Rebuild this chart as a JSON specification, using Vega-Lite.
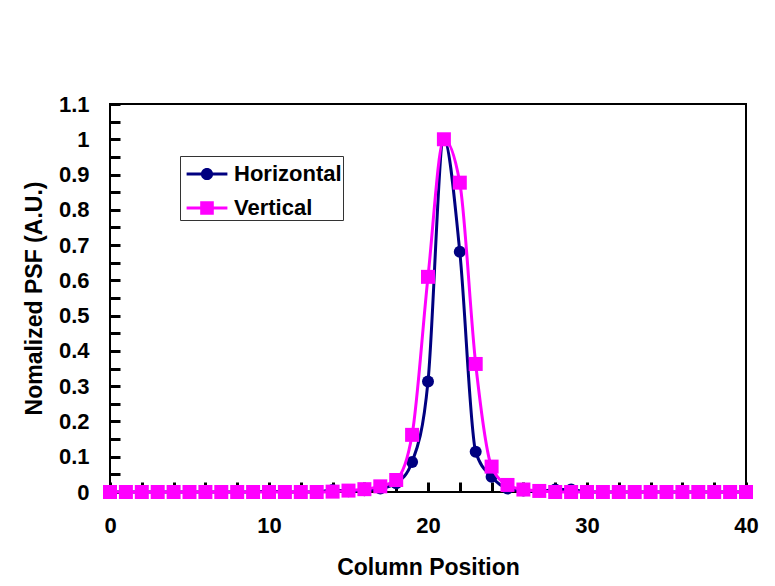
{
  "$schema": "https://vega.github.io/schema/vega-lite/v6.json",
  "width": 636,
  "height": 388,
  "autosize": {"type": "none"},
  "padding": {"left": 110, "top": 104, "right": 29, "bottom": 94},
  "background": "white",
  "config": {"view": {"stroke": "black", "strokeWidth": 2}, "font": "Liberation Sans"},
  "data": {"values": [
    {"series": "Horizontal", "col": 0, "psf": 0}, {"series": "Horizontal", "col": 1, "psf": 0}, {"series": "Horizontal", "col": 2, "psf": 0}, {"series": "Horizontal", "col": 3, "psf": 0}, {"series": "Horizontal", "col": 4, "psf": 0}, {"series": "Horizontal", "col": 5, "psf": 0}, {"series": "Horizontal", "col": 6, "psf": 0}, {"series": "Horizontal", "col": 7, "psf": 0}, {"series": "Horizontal", "col": 8, "psf": 0}, {"series": "Horizontal", "col": 9, "psf": 0},
    {"series": "Horizontal", "col": 10, "psf": 0.003}, {"series": "Horizontal", "col": 11, "psf": 0}, {"series": "Horizontal", "col": 12, "psf": 0}, {"series": "Horizontal", "col": 13, "psf": 0}, {"series": "Horizontal", "col": 14, "psf": 0.006}, {"series": "Horizontal", "col": 15, "psf": 0.002}, {"series": "Horizontal", "col": 16, "psf": 0.005}, {"series": "Horizontal", "col": 17, "psf": 0.01}, {"series": "Horizontal", "col": 18, "psf": 0.025}, {"series": "Horizontal", "col": 19, "psf": 0.085},
    {"series": "Horizontal", "col": 20, "psf": 0.313}, {"series": "Horizontal", "col": 21, "psf": 1.0}, {"series": "Horizontal", "col": 22, "psf": 0.681}, {"series": "Horizontal", "col": 23, "psf": 0.114}, {"series": "Horizontal", "col": 24, "psf": 0.043}, {"series": "Horizontal", "col": 25, "psf": 0.01}, {"series": "Horizontal", "col": 26, "psf": 0.004}, {"series": "Horizontal", "col": 27, "psf": 0.002}, {"series": "Horizontal", "col": 28, "psf": 0.007}, {"series": "Horizontal", "col": 29, "psf": 0.007},
    {"series": "Horizontal", "col": 30, "psf": 0}, {"series": "Horizontal", "col": 31, "psf": 0}, {"series": "Horizontal", "col": 32, "psf": 0}, {"series": "Horizontal", "col": 33, "psf": 0}, {"series": "Horizontal", "col": 34, "psf": 0}, {"series": "Horizontal", "col": 35, "psf": 0}, {"series": "Horizontal", "col": 36, "psf": 0}, {"series": "Horizontal", "col": 37, "psf": 0}, {"series": "Horizontal", "col": 38, "psf": 0}, {"series": "Horizontal", "col": 39, "psf": 0}, {"series": "Horizontal", "col": 40, "psf": 0},
    {"series": "Vertical", "col": 0, "psf": 0}, {"series": "Vertical", "col": 1, "psf": 0}, {"series": "Vertical", "col": 2, "psf": 0}, {"series": "Vertical", "col": 3, "psf": 0}, {"series": "Vertical", "col": 4, "psf": 0}, {"series": "Vertical", "col": 5, "psf": 0}, {"series": "Vertical", "col": 6, "psf": 0}, {"series": "Vertical", "col": 7, "psf": 0}, {"series": "Vertical", "col": 8, "psf": 0}, {"series": "Vertical", "col": 9, "psf": 0},
    {"series": "Vertical", "col": 10, "psf": 0}, {"series": "Vertical", "col": 11, "psf": 0}, {"series": "Vertical", "col": 12, "psf": 0}, {"series": "Vertical", "col": 13, "psf": 0}, {"series": "Vertical", "col": 14, "psf": 0.001}, {"series": "Vertical", "col": 15, "psf": 0.004}, {"series": "Vertical", "col": 16, "psf": 0.008}, {"series": "Vertical", "col": 17, "psf": 0.016}, {"series": "Vertical", "col": 18, "psf": 0.034}, {"series": "Vertical", "col": 19, "psf": 0.162},
    {"series": "Vertical", "col": 20, "psf": 0.61}, {"series": "Vertical", "col": 21, "psf": 1.0}, {"series": "Vertical", "col": 22, "psf": 0.877}, {"series": "Vertical", "col": 23, "psf": 0.363}, {"series": "Vertical", "col": 24, "psf": 0.072}, {"series": "Vertical", "col": 25, "psf": 0.02}, {"series": "Vertical", "col": 26, "psf": 0.007}, {"series": "Vertical", "col": 27, "psf": 0.003}, {"series": "Vertical", "col": 28, "psf": 0}, {"series": "Vertical", "col": 29, "psf": 0},
    {"series": "Vertical", "col": 30, "psf": 0}, {"series": "Vertical", "col": 31, "psf": 0}, {"series": "Vertical", "col": 32, "psf": 0}, {"series": "Vertical", "col": 33, "psf": 0}, {"series": "Vertical", "col": 34, "psf": 0}, {"series": "Vertical", "col": 35, "psf": 0}, {"series": "Vertical", "col": 36, "psf": 0}, {"series": "Vertical", "col": 37, "psf": 0}, {"series": "Vertical", "col": 38, "psf": 0}, {"series": "Vertical", "col": 39, "psf": 0}, {"series": "Vertical", "col": 40, "psf": 0}
  ]},
  "encoding": {
    "x": {
      "field": "col", "type": "quantitative",
      "scale": {"domain": [0, 40], "nice": false, "zero": false},
      "axis": {
        "title": "Column Position",
        "values": [0, 2, 4, 6, 8, 10, 12, 14, 16, 18, 20, 22, 24, 26, 28, 30, 32, 34, 36, 38, 40],
        "labelExpr": "datum.value % 10 === 0 ? datum.label : ''",
        "grid": false, "ticks": true, "tickSize": 10, "tickWidth": 3, "tickColor": "black", "offset": -10,
        "domain": false,
        "labelFont": "Liberation Sans", "labelFontWeight": "bold", "labelFontSize": 22, "labelColor": "black",
        "labelPadding": 23, "labelFlush": false, "labelOverlap": false,
        "titleFont": "Liberation Sans", "titleFontWeight": "bold", "titleFontSize": 23, "titleColor": "black", "titlePadding": 20
      }
    },
    "y": {
      "field": "psf", "type": "quantitative",
      "scale": {"domain": [0, 1.1], "nice": false},
      "axis": {
        "title": "Nomalized PSF (A.U.)",
        "values": [0, 0.05, 0.1, 0.15, 0.2, 0.25, 0.3, 0.35, 0.4, 0.45, 0.5, 0.55, 0.6, 0.65, 0.7, 0.75, 0.8, 0.85, 0.9, 0.95, 1.0, 1.05, 1.1],
        "labelExpr": "round(datum.value * 100) % 10 === 0 ? format(datum.value, '~g') : ''",
        "grid": false, "ticks": true, "tickSize": 10, "tickWidth": 3, "tickColor": "black", "offset": -10,
        "domain": false,
        "labelFont": "Liberation Sans", "labelFontWeight": "bold", "labelFontSize": 22, "labelColor": "black",
        "labelPadding": 21, "labelFlush": false, "labelOverlap": false,
        "titleFont": "Liberation Sans", "titleFontWeight": "bold", "titleFontSize": 23, "titleColor": "black", "titlePadding": 12
      }
    },
    "color": {
      "field": "series", "type": "nominal",
      "scale": {"domain": ["Horizontal", "Vertical"], "range": ["#000080", "#ff00ff"]},
      "legend": {
        "orient": "none", "legendX": 70, "legendY": 52, "title": null,
        "strokeColor": "#333333", "fillColor": "white", "padding": 1,
        "labelFont": "Liberation Sans", "labelFontWeight": "bold", "labelFontSize": 22, "labelColor": "black",
        "symbolSize": 1156, "symbolOffset": 9, "labelOffset": 10, "rowPadding": 6,
        "encode": {"symbols": {"update": {
          "shape": {"signal": "datum.value === 'Horizontal' ? 'M-1.2,-0.09H1.2V0.09H-1.2Z M0.36,0A0.36,0.36 0 1,1 -0.36,0A0.36,0.36 0 1,1 0.36,0Z' : 'M-1.2,-0.09H1.2V0.09H-1.2Z M-0.4,-0.4H0.4V0.4H-0.4Z'"},
          "fill": {"signal": "datum.value === 'Horizontal' ? '#000080' : '#ff00ff'"},
          "strokeWidth": {"value": 0},
          "opacity": {"value": 1},
          "fillOpacity": {"value": 1}
        }}}
      }
    }
  },
  "layer": [
    {"transform": [{"filter": "datum.series === 'Horizontal'"}], "mark": {"type": "line", "strokeWidth": 3, "interpolate": "monotone"}},
    {"transform": [{"filter": "datum.series === 'Horizontal'"}], "mark": {"type": "point", "shape": "circle", "filled": true, "size": 144, "opacity": 1}},
    {"transform": [{"filter": "datum.series === 'Vertical'"}], "mark": {"type": "line", "strokeWidth": 3, "interpolate": "monotone"}},
    {"transform": [{"filter": "datum.series === 'Vertical'"}], "mark": {"type": "point", "shape": "square", "filled": true, "size": 196, "opacity": 1}}
  ]
}
